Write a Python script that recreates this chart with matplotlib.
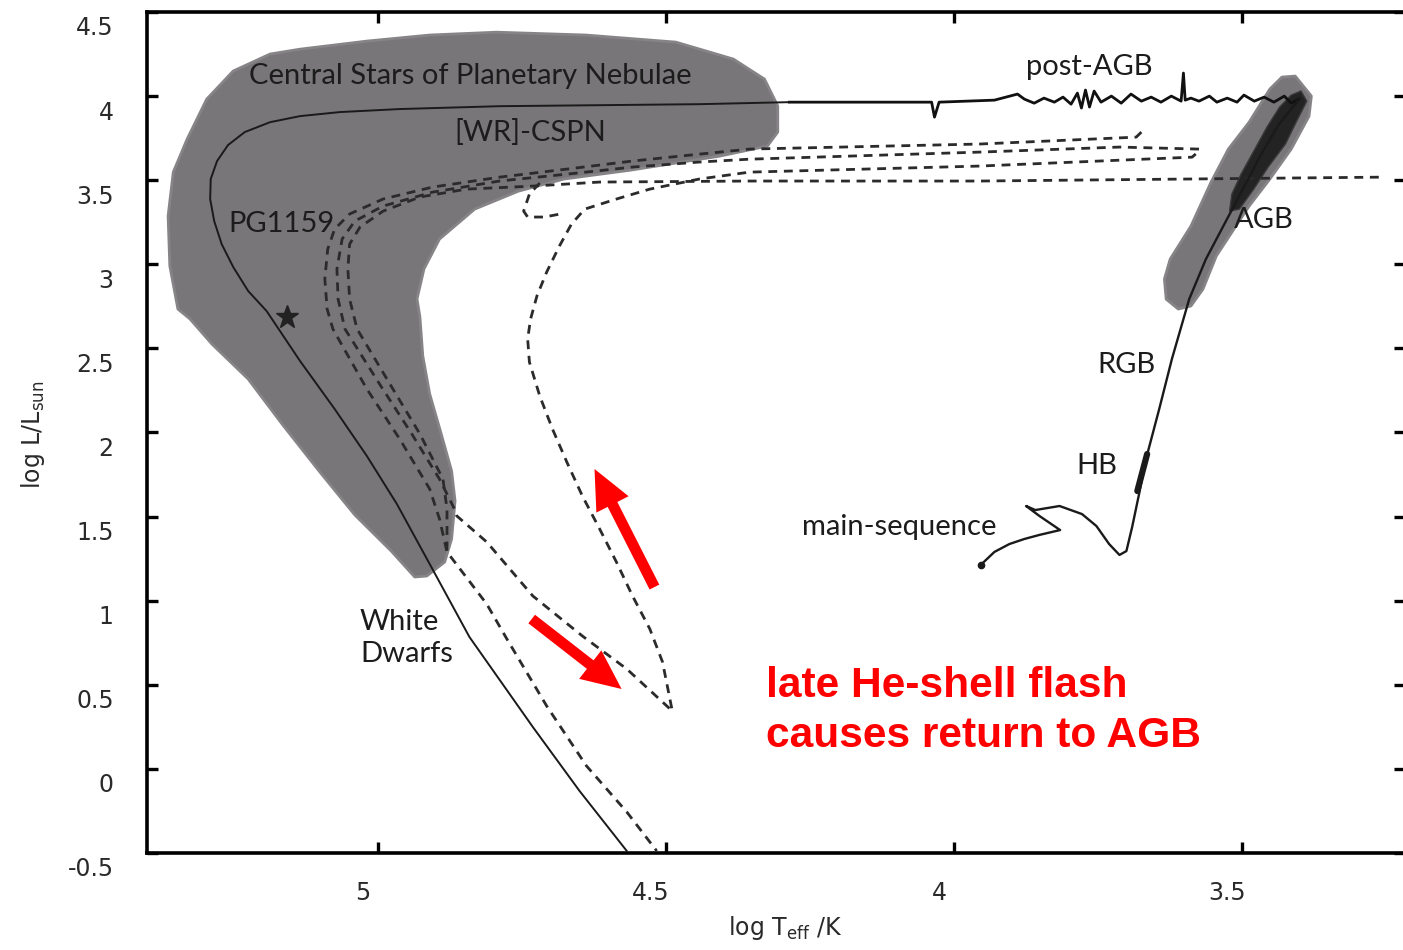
import matplotlib
matplotlib.use("Agg")
import matplotlib.pyplot as plt
from matplotlib.transforms import ScaledTranslation

plt.rcParams['axes.unicode_minus'] = False

# ---- values: (log Teff, log L/Lsun) ----

# grey area: central stars of planetary nebulae
cspn_x = [5.347, 5.361, 5.364, 5.355, 5.331, 5.297, 5.251, 5.187, 5.135, 5.019, 4.910,
          4.794, 4.639, 4.483, 4.383, 4.329, 4.306, 4.306, 4.324, 4.407, 4.561, 4.677,
          4.756, 4.832, 4.893, 4.920, 4.932, 4.927, 4.922, 4.910, 4.891, 4.872, 4.866,
          4.872, 4.884, 4.915, 4.936, 4.977, 5.040, 5.102, 5.165, 5.225, 5.288, 5.326]
cspn_y = [2.734, 2.990, 3.287, 3.548, 3.744, 3.982, 4.149, 4.250, 4.279, 4.327, 4.363,
          4.380, 4.363, 4.321, 4.220, 4.101, 3.941, 3.786, 3.703, 3.643, 3.560, 3.507,
          3.435, 3.328, 3.150, 2.972, 2.794, 2.687, 2.455, 2.229, 2.003, 1.771, 1.593,
          1.367, 1.230, 1.147, 1.141, 1.296, 1.510, 1.771, 2.045, 2.318, 2.526, 2.675]

# grey area round the AGB and its dark core
agb_x = [3.408, 3.380, 3.384, 3.415, 3.452, 3.488, 3.511, 3.545, 3.568, 3.589,
         3.611, 3.632, 3.635, 3.625, 3.589, 3.554, 3.524, 3.488, 3.452, 3.431]
agb_y = [4.119, 4.000, 3.881, 3.685, 3.507, 3.346, 3.227, 3.049, 2.853, 2.752,
         2.734, 2.793, 2.912, 3.031, 3.227, 3.489, 3.685, 3.845, 4.042, 4.113]
core_x = [3.398, 3.388, 3.408, 3.425, 3.455, 3.480, 3.505, 3.522, 3.518, 3.502,
          3.478, 3.457, 3.435, 3.415]
core_y = [4.030, 3.970, 3.834, 3.715, 3.578, 3.447, 3.328, 3.316, 3.417, 3.536,
          3.685, 3.816, 3.935, 4.006]

# main sequence -> RGB -> AGB
rgb_x = [3.954, 3.930, 3.904, 3.878, 3.852, 3.816, 3.852, 3.875, 3.859, 3.817, 3.778,
         3.753, 3.731, 3.713, 3.701, 3.691, 3.679, 3.667, 3.644, 3.622, 3.592, 3.563,
         3.531, 3.497, 3.467, 3.436, 3.401]
rgb_y = [1.212, 1.290, 1.337, 1.367, 1.391, 1.420, 1.504, 1.563, 1.539, 1.563, 1.515,
         1.444, 1.337, 1.272, 1.295, 1.438, 1.634, 1.842, 2.140, 2.437, 2.793, 3.031,
         3.239, 3.459, 3.655, 3.834, 3.982]
hb_x = [3.682, 3.665]
hb_y = [1.652, 1.872]

# post-AGB (noisy part)
post_x = [3.401, 3.415, 3.427, 3.445, 3.462, 3.479, 3.497, 3.509, 3.526, 3.544, 3.557,
          3.575, 3.589, 3.599, 3.602, 3.606, 3.623, 3.641, 3.658, 3.675, 3.693, 3.710,
          3.727, 3.745, 3.757, 3.765, 3.772, 3.779, 3.786, 3.797, 3.811, 3.826, 3.844,
          3.861, 3.878, 3.890, 3.930, 4.026, 4.034, 4.039, 4.130, 4.286]
post_y = [3.982, 3.958, 4.000, 3.964, 3.994, 3.970, 4.006, 3.964, 3.988, 3.964, 4.000,
          3.970, 3.988, 3.976, 4.137, 3.970, 4.000, 3.964, 3.994, 3.970, 4.012, 3.958,
          4.000, 3.964, 4.030, 3.935, 4.036, 3.929, 4.018, 3.952, 3.994, 3.964, 3.988,
          3.958, 3.982, 4.012, 3.976, 3.964, 3.875, 3.964, 3.964, 3.964]

# CSPN -> white dwarf track
wd_x = [4.286, 4.442, 4.615, 4.789, 4.962, 5.066, 5.135, 5.187, 5.231, 5.260, 5.279,
        5.290, 5.291, 5.284, 5.271, 5.251, 5.225, 5.193, 5.135, 5.075, 5.019, 4.967,
        4.910, 4.841, 4.731, 4.650, 4.568]
wd_y = [3.964, 3.952, 3.946, 3.940, 3.923, 3.905, 3.881, 3.845, 3.786, 3.709, 3.614,
        3.507, 3.388, 3.257, 3.120, 2.984, 2.841, 2.722, 2.425, 2.140, 1.860, 1.575,
        1.218, 0.784, 0.249, -0.131, -0.488]
star_x, star_y = 5.158, 2.686

# dashed tracks
ta_x = [3.675, 3.684, 3.956, 4.355, 4.442, 4.558, 4.672, 4.789, 4.905, 4.991, 5.049,
        5.075, 5.087, 5.092, 5.088, 5.078, 5.019, 4.962, 4.910, 4.893, 4.880, 4.811,
        4.776, 4.707, 4.638, 4.568, 4.516]
ta_y = [3.786, 3.756, 3.715, 3.685, 3.655, 3.614, 3.566, 3.518, 3.459, 3.388, 3.299,
        3.209, 3.090, 2.912, 2.734, 2.615, 2.258, 1.961, 1.664, 1.486, 1.290, 0.980,
        0.772, 0.374, 0.018, -0.256, -0.488]

# late thermal pulse: out to the WD region, loop back to the AGB
tb_x = [3.575, 3.713, 3.956, 4.355, 4.442, 4.558, 4.672, 4.789, 4.905, 4.991, 5.040,
        5.062, 5.071, 5.069, 5.057, 4.997, 4.941, 4.893, 4.867, 4.863, 4.811, 4.731,
        4.645, 4.568, 4.489, 4.506, 4.528, 4.558, 4.586, 4.615, 4.645, 4.672, 4.697,
        4.719, 4.737, 4.740, 4.735, 4.724, 4.707, 4.685, 4.664, 4.641, 4.586, 4.528,
        4.442, 4.355, 3.956, 3.587, 3.575]
tb_y = [3.685, 3.697, 3.667, 3.625, 3.608, 3.578, 3.536, 3.495, 3.429, 3.346, 3.257,
        3.150, 2.972, 2.793, 2.615, 2.288, 1.991, 1.723, 1.545, 1.504, 1.349, 1.028,
        0.790, 0.594, 0.344, 0.636, 0.832, 1.028, 1.230, 1.426, 1.622, 1.824, 2.021,
        2.217, 2.419, 2.556, 2.674, 2.811, 2.954, 3.108, 3.239, 3.328, 3.388, 3.447,
        3.507, 3.548, 3.584, 3.637, 3.673]

td_x = [3.263, 3.956, 4.355, 4.615, 4.731, 4.846, 4.927, 4.991, 5.031, 5.049, 5.052,
        5.049, 5.036, 4.979, 4.927, 4.887, 4.880, 4.880]
td_y = [3.518, 3.495, 3.495, 3.489, 3.465, 3.447, 3.400, 3.316, 3.221, 3.120, 2.972,
        2.793, 2.615, 2.288, 1.991, 1.723, 1.545, 1.290]

hook_x = [4.719, 4.737, 4.747, 4.740, 4.711, 4.676]
hook_y = [3.483, 3.417, 3.316, 3.281, 3.281, 3.304]

# red arrows (tail, head)
arrows = [((4.520, 1.081), (4.624, 1.783)),
          ((4.733, 0.891), (4.577, 0.475))]

# labels
labels = [("Central Stars of Planetary Nebulae", 4.839, 4.119),
          ("[WR]-CSPN", 4.735, 3.786),
          ("PG1159", 5.167, 3.239),
          ("post-AGB", 3.765, 4.172),
          ("AGB", 3.462, 3.263),
          ("RGB", 3.700, 2.401),
          ("HB", 3.752, 1.801),
          ("main-sequence", 4.095, 1.438)]

xticks = [5, 4.5, 4, 3.5]
yticks = [-0.5, 0, 0.5, 1, 1.5, 2, 2.5, 3, 3.5, 4, 4.5]
xtick_labels = ['5', '4.5', '4', '3.5']
ytick_labels = ['-0.5', '0', '0.5', '1', '1.5', '2', '2.5', '3', '3.5', '4', '4.5']

# ---- figure ----
fig = plt.figure(figsize=(14.03, 9.5), dpi=100)
ax = fig.add_axes([147 / 1403, 97 / 950, 1258 / 1403, 841 / 950])

grey = '#787678'
ax.fill(cspn_x, cspn_y, color=grey, lw=2, ec='#868486', joinstyle='round', zorder=1)
ax.fill(agb_x, agb_y, color=grey, lw=2, ec='#868486', joinstyle='round', zorder=1)
ax.fill(core_x, core_y, color='#232323', lw=1, ec='#3a3a3a', zorder=2)

dash = dict(color='#2b2b2b', lw=2.0, linestyle=(0, (3.2, 2.4)), zorder=3)
ax.plot(ta_x, ta_y, **dash)
ax.plot(tb_x, tb_y, **dash)
ax.plot(td_x, td_y, **dash)
ax.plot(hook_x, hook_y, **dash)

ax.plot(post_x, post_y, color='#111111', lw=2.0, zorder=4)
ax.plot(wd_x, wd_y, color='#1a1a1a', lw=1.4, zorder=4)
ax.plot(rgb_x, rgb_y, color='#1a1a1a', lw=1.7, zorder=4)
ax.plot(hb_x, hb_y, color='#1a1a1a', lw=4.5, solid_capstyle='round', zorder=4)
ax.plot(rgb_x[0], rgb_y[0], 'o', color='#1a1a1a', ms=4.5, zorder=5)
ax.plot(star_x, star_y, '*', color='#222222', ms=17, zorder=5)

for (tx, ty), (hx, hy) in arrows:
    ax.annotate('', xy=(hx, hy), xytext=(tx, ty),
                arrowprops=dict(arrowstyle='simple,head_width=1.0,head_length=1.1,tail_width=0.3',
                                mutation_scale=26, color='#ff0000', lw=0,
                                shrinkA=0, shrinkB=0), zorder=6)

lab_font = dict(family=['Lato', 'DejaVu Sans'], fontsize=21, color='#1c1c1c', zorder=6)
for txt, lx, ly in labels:
    ax.text(lx, ly, txt, ha='center', va='center', **lab_font)
ax.text(5.031, 0.78, "White\nDwarfs", ha='left', va='center', linespacing=1.3, **lab_font)

ax.text(4.327, 0.344, "late He-shell flash\ncauses return to AGB", ha='left', va='center',
        family=['Liberation Sans', 'DejaVu Sans'], fontweight='bold', fontsize=30.6,
        color='#ff0000', linespacing=1.3, zorder=6)

ax.set_xlim(5.4006, 3.2175)
ax.set_ylim(-0.5, 4.5)
ax.set_xticks(xticks)
ax.set_xticklabels(xtick_labels)
ax.set_yticks(yticks)
ax.set_yticklabels(ytick_labels)
ax.tick_params(direction='in', length=8, width=2.4, top=True, right=True,
               labelsize=17, labelcolor='#2a2a2a')
ax.tick_params(axis='x', pad=20)
ax.tick_params(axis='y', pad=24)
for lbl in ax.get_xticklabels():
    lbl.set_fontfamily(['DejaVu Sans'])
    lbl.set_transform(lbl.get_transform() + ScaledTranslation(-0.15, 0, fig.dpi_scale_trans))
for lbl in ax.get_yticklabels():
    lbl.set_fontfamily(['DejaVu Sans'])
    lbl.set_transform(lbl.get_transform() + ScaledTranslation(0, -0.14, fig.dpi_scale_trans))
for s in ax.spines.values():
    s.set_linewidth(2.6)

ax.set_xlabel(r'log T$_{\mathregular{eff}}$ /K', fontsize=17, color='#2a2a2a',
              family=['DejaVu Sans'])
ax.set_ylabel(r'log L/L$_{\mathregular{sun}}$', fontsize=17, color='#2a2a2a',
              family=['DejaVu Sans'])
ax.xaxis.set_label_coords(0.507, -0.072)
ax.yaxis.set_label_coords(-0.0795, 0.497)

fig.savefig('out.png', dpi=100)
